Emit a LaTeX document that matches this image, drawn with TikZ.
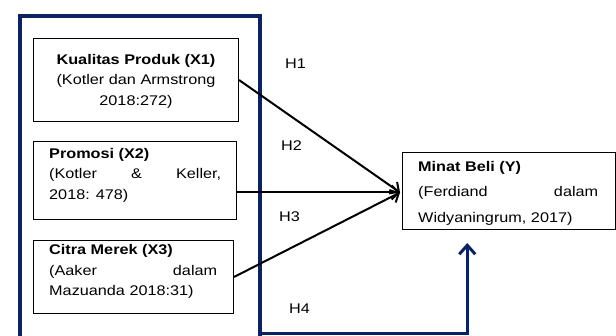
\documentclass[tikz,border=0pt]{standalone}
\usepackage{fontspec}
\setmainfont[FakeStretch=1.16]{Liberation Sans}
\usetikzlibrary{arrows.meta,calc}
\definecolor{navyline}{RGB}{10,34,100}
\tikzset{
  box/.style={draw=black, line width=1pt, inner sep=0pt},
  txt/.style={inner sep=0pt, font=\fontsize{14}{20.5}\selectfont},
  ytxt/.style={inner sep=0pt, font=\fontsize{14}{25.5}\selectfont},
  hlab/.style={inner sep=0pt, anchor=base west, font=\fontsize{14}{16}\selectfont},
  arr/.style={line width=2pt, -{Straight Barb[length=7pt,width=14pt,line width=2pt]}},
  navy/.style={draw=navyline, line width=4.5pt},
  navyarr/.style={draw=navyline, line width=3pt, -{Straight Barb[length=9pt,width=16pt,line width=3pt]}}
}
\begin{document}
\begin{tikzpicture}[x=1pt,y=-1pt]
\useasboundingbox (0,0) rectangle (616,336);
% big navy frame
\node[navy, inner sep=0pt, minimum width=240pt, minimum height=325pt, anchor=north west] (frame) at (17.5,14) {};
% boxes
\node[box, minimum width=205pt, minimum height=83pt, anchor=north west] (x1) at (33,38) {};
\node[box, minimum width=203pt, minimum height=78pt, anchor=north west] (x2) at (33,141) {};
\node[box, minimum width=200pt, minimum height=73pt, anchor=north west] (x3) at (33,240) {};
\node[box, minimum width=213pt, minimum height=77pt, anchor=north west] (y) at (402,152) {};
% texts
\node[txt, anchor=base] (t1) at (136,64.5) {\parbox[t]{195pt}{\centering\textbf{Kualitas Produk (X1)}\\(Kotler dan Armstrong\\2018:272)}};
\node[txt, anchor=base west] (t2) at (49,158.5) {\parbox[t]{172pt}{\textbf{Promosi (X2)}\\\hbox to 172pt{(Kotler\hfill\&\hfill Keller,}\\2018: 478)}};
\node[txt, anchor=base west] (t3) at (49,255) {\parbox[t]{168pt}{\textbf{Citra Merek (X3)}\\\hbox to 168pt{(Aaker\hfill dalam}\\Mazuanda 2018:31)}};
\node[ytxt, anchor=base west] (ty) at (418,171.5) {\parbox[t]{180pt}{\textbf{Minat Beli (Y)}\\\hbox to 180pt{(Ferdiand\hfill dalam}\\Widyaningrum, 2017)}};
% hypothesis labels
\node[hlab] (h1) at (285,69) {H1};
\node[hlab] (h2) at (281,151) {H2};
\node[hlab] (h3) at (279,222) {H3};
\node[hlab] (h4) at (289,314) {H4};
% connectors
\coordinate (tip) at ($(y.west)+(-2pt,-1.5pt)$);
\draw[arr] (x1.east) -- (tip);
\draw[arr] (x2.east |- tip) -- (tip);
\draw[arr] (x3.east) -- (tip);
\coordinate (yin) at ($(y.south west)!0.305!(y.south east)$);
\coordinate (corner) at ($(frame.east |- 0,333.5)+(-2pt,0)$);
\draw[navyarr, line cap=butt] (corner) -| ($(yin)+(0,-13pt)$);
\end{tikzpicture}
\end{document}
